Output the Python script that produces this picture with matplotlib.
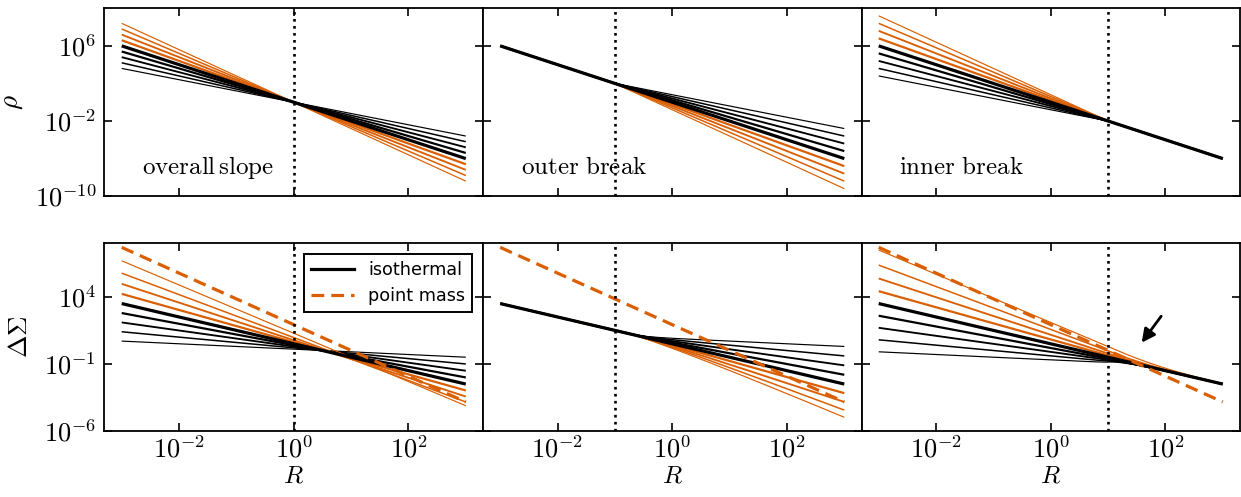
import math
import numpy as np
import matplotlib
matplotlib.use("Agg")
import matplotlib.pyplot as plt
from matplotlib.ticker import FixedLocator, NullLocator, FuncFormatter

plt.rcParams["mathtext.fontset"] = "cm"

# logarithmic density slopes, isothermal is 2
slopes = [1.2, 1.4, 1.6, 1.8, 2.0, 2.2, 2.4, 2.6, 2.8]
widths = [0.85, 1.1, 1.35, 1.6, 2.3, 1.6, 1.35, 1.1, 0.85]
iso = 2.0

# pivot / break radius of each column
panels = ["overall slope", "outer break", "inner break"]
panel_tex = [r"$\mathrm{overall\,slope}$", r"$\mathrm{outer\ break}$", r"$\mathrm{inner\ break}$"]
r_break = [1.0, 0.1, 10.0]

# point mass reference curve: amplitude at R=1 and log slope
pm_amp = 84.0
pm_slope = -1.92

r_min, r_max = 1e-3, 1e3
R = np.logspace(np.log10(r_min), np.log10(r_max), 240)

orange = "#d95f02"


def full_pl(a, R):
    # rho = r^-a everywhere: surface density and cylinder mass
    sig = R ** (1 - a) * math.sqrt(math.pi) * math.gamma((a - 1) / 2) / math.gamma(a / 2)
    m = np.pi * R ** 2 * 2.0 / (3 - a) * sig
    return sig, m


def trunc_pl(a, rb, R):
    # rho = r^-a only inside rb
    sig = np.zeros_like(R)
    m = np.full_like(R, 4 * np.pi * rb ** (3 - a) / (3 - a))
    for i, Ri in enumerate(R):
        if Ri >= rb:
            continue
        u = np.linspace(0, np.arccosh(rb / Ri), 3000)
        ch = np.cosh(u)
        sig[i] = 2 * Ri ** (1 - a) * np.trapezoid(ch ** (1 - a), u)
        f = ch ** (2 - a) * np.sinh(u) * 2.0 / (np.exp(2 * u) + 1)
        m[i] = 4 * np.pi * Ri ** (3 - a) * (1.0 / (3 - a) + np.trapezoid(f, u))
    return sig, m


def profile(g_in, g_out, rb, R):
    a_in = rb ** (g_in - 2)
    a_out = rb ** (g_out - 2)
    rho = np.where(R < rb, a_in * R ** -g_in, a_out * R ** -g_out)
    s1, m1 = full_pl(g_out, R)
    s2, m2 = trunc_pl(g_out, rb, R)
    s3, m3 = trunc_pl(g_in, rb, R)
    sig = a_out * (s1 - s2) + a_in * s3
    m = a_out * (m1 - m2) + a_in * m3
    dsig = m / (np.pi * R ** 2) - sig
    return rho, dsig


def pow10(v, pos):
    return r"$10^{%d}$" % round(np.log10(v))


fig, axes = plt.subplots(2, 3, figsize=(12.41, 4.97), dpi=100, sharex=True, sharey="row")
fig.subplots_adjust(left=0.0842, right=0.9992, top=0.9833, bottom=0.1328, wspace=0, hspace=0.25)

for j in range(3):
    ax_r, ax_d = axes[0, j], axes[1, j]
    rb = r_break[j]
    for g, lw in zip(slopes, widths):
        if j == 0:
            g_in, g_out = g, g
        elif j == 1:
            g_in, g_out = iso, g
        else:
            g_in, g_out = g, iso
        rho, dsig = profile(g_in, g_out, rb, R)
        c = "k" if g <= iso else orange
        z = 3 if g == iso else 2
        ax_r.plot(R, rho, color=c, lw=lw, zorder=z, solid_capstyle="butt")
        ax_d.plot(R, dsig, color=c, lw=lw, zorder=z, solid_capstyle="butt")
    pm = pm_amp * R ** pm_slope
    ax_d.plot(R, pm, color=orange, lw=2.3, ls=(0, (4, 2.2)), zorder=4)
    for ax in (ax_r, ax_d):
        ax.axvline(rb, color="k", ls=":", lw=1.9, zorder=5)
    ax_r.text(0.1, 0.12, panel_tex[j], transform=ax_r.transAxes, fontsize=18, va="baseline")
    ax_d.set_xlabel(r"$R$", fontsize=18, labelpad=0)

axes[1, 2].annotate("", xy=(36, 2.6), xytext=(90, 525),
                    arrowprops=dict(arrowstyle="-|>", color="k", lw=2.0, mutation_scale=20))

for ax in axes.flat:
    ax.set_xscale("log")
    ax.set_yscale("log")
    ax.xaxis.set_major_locator(FixedLocator([1e-2, 1, 1e2]))
    ax.xaxis.set_major_formatter(FuncFormatter(pow10))
    ax.xaxis.set_minor_locator(NullLocator())
    ax.tick_params(which="major", direction="in", top=True, right=True,
                   length=6, width=1.2, labelsize=19, pad=4)
    ax.tick_params(axis="y", pad=6)
    for s in ax.spines.values():
        s.set_linewidth(1.3)

for ax in axes[0]:
    ax.set_ylim(1e-10, 1e10)
    ax.yaxis.set_major_locator(FixedLocator([1e-10, 1e-2, 1e6]))
    ax.yaxis.set_major_formatter(FuncFormatter(pow10))
    ax.yaxis.set_minor_locator(NullLocator())
for ax in axes[1]:
    ax.set_ylim(1e-6, 1e8)
    ax.yaxis.set_major_locator(FixedLocator([1e-6, 1e-1, 1e4]))
    ax.yaxis.set_major_formatter(FuncFormatter(pow10))
    ax.yaxis.set_minor_locator(NullLocator())
axes[0, 0].set_xlim(10 ** -3.3, 10 ** 3.3)

axes[0, 0].set_ylabel(r"$\rho$", fontsize=19.5)
axes[1, 0].set_ylabel(r"$\Delta\Sigma$", fontsize=19.5)
axes[0, 0].yaxis.set_label_coords(-0.209, 0.5)
axes[1, 0].yaxis.set_label_coords(-0.19, 0.5)

h1, = axes[1, 0].plot([], [], color="k", lw=2.3)
h2, = axes[1, 0].plot([], [], color=orange, lw=2.3, ls=(0, (4, 2.2)))
leg = axes[1, 0].legend([h1, h2], ["isothermal", "point mass"], loc="upper right",
                        bbox_to_anchor=(0.9715, 0.943), borderaxespad=0, fontsize=12.7,
                        handlelength=2.45, handletextpad=0.8, labelspacing=0.45,
                        fancybox=False, framealpha=1, edgecolor="k")
leg.get_frame().set_linewidth(1.4)

fig.savefig("out.png", dpi=100)
